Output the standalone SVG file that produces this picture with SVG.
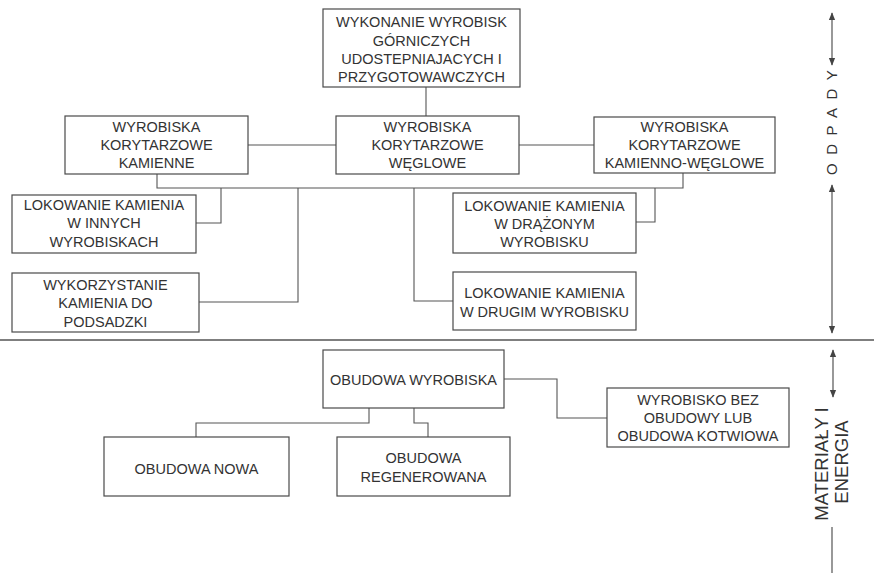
<svg xmlns="http://www.w3.org/2000/svg" width="874" height="573" viewBox="0 0 874 573">
<style>
.box{fill:#fff;stroke:#4a4a4a;stroke-width:1.2}
.t{font-family:"Liberation Sans",Arial,sans-serif;font-size:14.5px;fill:#333;text-anchor:middle}
.c{fill:none;stroke:#555;stroke-width:1.1}
.side{font-family:"Liberation Sans",Arial,sans-serif;fill:#333}
</style>
<defs>
<marker id="ah" viewBox="0 0 10 10" refX="9" refY="5" markerWidth="8" markerHeight="8" markerUnits="userSpaceOnUse" orient="auto-start-reverse">
<path d="M0,1 L10,5 L0,9 z" fill="#444"/>
</marker>
</defs>
<rect width="874" height="573" fill="#fff"/>
<g id="connectors">
<path class="c" d="M426,87 V116"/>
<path class="c" d="M248,145 H336"/>
<path class="c" d="M519,145 H594"/>
<path class="c" d="M157,174 V188 H683 V173"/>
<path class="c" d="M221,188 V223 H196"/>
<path class="c" d="M298,188 V302 H199"/>
<path class="c" d="M414,188 V301 H453"/>
<path class="c" d="M655,188 V222 H636"/>
<path class="c" d="M369,408 V423 H196 V437"/>
<path class="c" d="M414,408 V423 H428 V437"/>
<path class="c" d="M504,379 H557 V418 H607"/>
</g>
<g id="separator">
<line x1="0" y1="340" x2="874" y2="340" stroke="#555" stroke-width="1.5"/>
</g>
<g id="n_top">
<rect class="box" x="323" y="9" width="197" height="78"/>
<text class="t" x="421.5" y="27">WYKONANIE WYROBISK</text>
<text class="t" x="421.5" y="45.5">GÓRNICZYCH</text>
<text class="t" x="421.5" y="63.5">UDOSTEPNIAJACYCH I</text>
<text class="t" x="421.5" y="82">PRZYGOTOWAWCZYCH</text>
</g>
<g id="n_kamienne">
<rect class="box" x="65" y="116" width="183" height="58"/>
<text class="t" x="156.5" y="132">WYROBISKA</text>
<text class="t" x="156.5" y="150">KORYTARZOWE</text>
<text class="t" x="156.5" y="168">KAMIENNE</text>
</g>
<g id="n_weglowe">
<rect class="box" x="336" y="116" width="183" height="58"/>
<text class="t" x="427.5" y="132">WYROBISKA</text>
<text class="t" x="427.5" y="150">KORYTARZOWE</text>
<text class="t" x="427.5" y="168">WĘGLOWE</text>
</g>
<g id="n_kamienno_weglowe">
<rect class="box" x="594" y="117" width="181" height="56"/>
<text class="t" x="684.5" y="132">WYROBISKA</text>
<text class="t" x="684.5" y="150">KORYTARZOWE</text>
<text class="t" x="684.5" y="168">KAMIENNO-WĘGLOWE</text>
</g>
<g id="n_innych">
<rect class="box" x="12" y="195" width="184" height="58"/>
<text class="t" x="104" y="210">LOKOWANIE KAMIENIA</text>
<text class="t" x="104" y="228">W INNYCH</text>
<text class="t" x="104" y="246.5">WYROBISKACH</text>
</g>
<g id="n_podsadzki">
<rect class="box" x="12" y="273" width="187" height="59"/>
<text class="t" x="105.5" y="290">WYKORZYSTANIE</text>
<text class="t" x="105.5" y="308">KAMIENIA DO</text>
<text class="t" x="105.5" y="326.5">PODSADZKI</text>
</g>
<g id="n_drazonym">
<rect class="box" x="453" y="193" width="183" height="60"/>
<text class="t" x="544.5" y="211">LOKOWANIE KAMIENIA</text>
<text class="t" x="544.5" y="229">W DRĄŻONYM</text>
<text class="t" x="544.5" y="247">WYROBISKU</text>
</g>
<g id="n_drugim">
<rect class="box" x="453" y="272" width="183" height="58"/>
<text class="t" x="544.5" y="298">LOKOWANIE KAMIENIA</text>
<text class="t" x="544.5" y="316.5">W DRUGIM WYROBISKU</text>
</g>
<g id="n_obudowa">
<rect class="box" x="323" y="350" width="181" height="58"/>
<text class="t" x="413.5" y="385">OBUDOWA WYROBISKA</text>
</g>
<g id="n_nowa">
<rect class="box" x="104" y="437" width="185" height="59"/>
<text class="t" x="196.5" y="474">OBUDOWA NOWA</text>
</g>
<g id="n_regenerowana">
<rect class="box" x="337" y="437" width="173" height="59"/>
<text class="t" x="423.5" y="463">OBUDOWA</text>
<text class="t" x="423.5" y="482">REGENEROWANA</text>
</g>
<g id="n_bez_obudowy">
<rect class="box" x="607" y="388" width="182" height="59"/>
<text class="t" x="698" y="405">WYROBISKO BEZ</text>
<text class="t" x="698" y="423">OBUDOWY LUB</text>
<text class="t" x="698" y="441">OBUDOWA KOTWIOWA</text>
</g>
<g id="side_labels">
<line x1="832" y1="13" x2="832" y2="65" stroke="#444" stroke-width="1.1" marker-start="url(#ah)" marker-end="url(#ah)"/>
<line x1="832" y1="185" x2="832" y2="333" stroke="#444" stroke-width="1.1" marker-start="url(#ah)" marker-end="url(#ah)"/>
<line x1="833" y1="350" x2="833" y2="397" stroke="#444" stroke-width="1.1" marker-start="url(#ah)" marker-end="url(#ah)"/>
<line x1="832" y1="527" x2="832" y2="573" stroke="#444" stroke-width="1.1"/>
<text class="side" font-size="15" letter-spacing="8.5" transform="translate(837,175) rotate(-90)">ODPADY</text>
<text class="side" font-size="18.5" text-anchor="middle" transform="translate(828,464) rotate(-90)">MATERIAŁY I</text>
<text class="side" font-size="18.5" text-anchor="middle" transform="translate(848,462) rotate(-90)">ENERGIA</text>
</g>
</svg>
